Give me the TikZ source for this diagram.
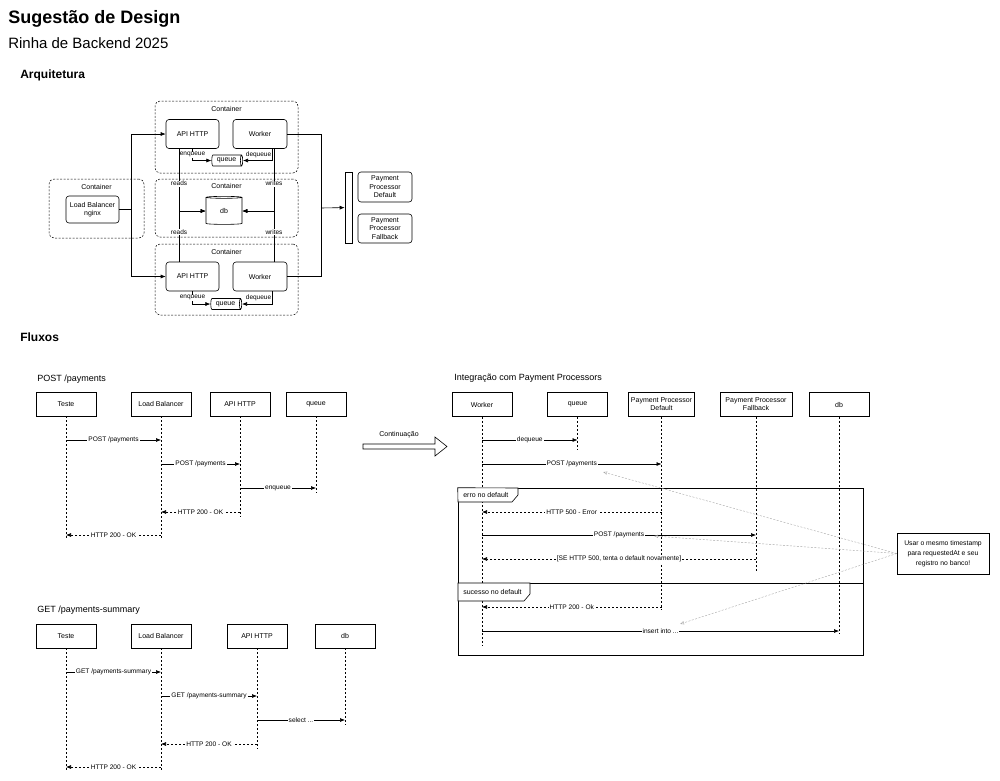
\documentclass[tikz,border=0pt]{standalone}
\usepackage{fontspec}
\setmainfont{Liberation Sans}
\usetikzlibrary{shapes.geometric,positioning,arrows.meta}

\begin{document}
\begin{tikzpicture}[x=1pt, y=-1pt, line width=0.6pt, >={Latex[length=5pt,width=4pt]},
  every node/.style={font=\fontsize{7}{8.4}\selectfont},
  caixa/.style={draw, rounded corners=3pt, align=center, minimum width=53pt, minimum height=29pt, inner sep=1pt},
  conteiner/.style={draw, dash pattern=on 2pt off 1.5pt, rounded corners=5pt, line width=0.5pt},
  fila/.style={draw, cylinder, aspect=0.45, minimum width=11pt, minimum height=31pt, inner sep=0pt},
  rotulo/.style={fill=white, inner sep=0.5pt, font=\fontsize{6.5}{7.5}\selectfont},
  participante/.style={draw, align=center, minimum width=60pt, minimum height=24pt, inner sep=1pt, font=\fontsize{7}{8}\selectfont},
  vida/.style={dash pattern=on 2pt off 2pt, line width=0.5pt},
  resposta/.style={->, dash pattern=on 2pt off 2pt},
  msglbl/.style={fill=white, inner sep=1pt, font=\fontsize{6.6}{7.5}\selectfont},
  ligacao/.style={-{Latex[open, length=4pt, width=3.5pt]}, draw=black!35, line width=0.4pt, dash pattern=on 2pt off 1.5pt},
  aba/.style={draw, fill=white},
  titulo/.style={anchor=west, inner sep=0pt}]
  \useasboundingbox (0,0) rectangle (1000,780);

  % titulos
  \node[titulo, font=\bfseries\fontsize{18}{22}\selectfont] (tit) at (8,19) {Sugestão de Design};
  \node[titulo, font=\fontsize{15}{18}\selectfont] (subtit) at (8,43) {Rinha de Backend 2025};
  \node[titulo, font=\bfseries\fontsize{12}{14}\selectfont] (arq) at (20,75) {Arquitetura};
  \node[titulo, font=\bfseries\fontsize{12}{14}\selectfont] (fluxos) at (20,337) {Fluxos};

  % arquitetura
  \node[conteiner, minimum width=143pt, minimum height=72pt] (c1) at (226.5,137) {};
  \node[conteiner, minimum width=143pt, minimum height=58pt] (c2) at (226.5,208) {};
  \node[conteiner, minimum width=143pt, minimum height=71pt] (c3) at (226.5,279.5) {};
  \node[conteiner, minimum width=95pt, minimum height=59pt] (c0) at (96.5,208.5) {};
  \node (c1l) at ([yshift=-8pt]c1.north) {Container};
  \node (c2l) at ([yshift=-7pt]c2.north) {Container};
  \node (c3l) at ([yshift=-8pt]c3.north) {Container};
  \node (c0l) at ([yshift=-8pt]c0.north) {Container};

  \node[caixa] (api1) at (192.5,134) {API HTTP};
  \node[caixa, minimum width=54pt] (wk1) at (260,134) {Worker};
  \node[fila] (fila1) at (226.5,160.5) {queue};
  \node[draw, cylinder, shape border rotate=90, aspect=0.25, minimum width=36pt, minimum height=28pt, inner sep=0pt] (db) at (224,211) {db};
  \node[caixa] (api2) at (192.5,276.5) {API HTTP};
  \node[caixa, minimum width=54pt] (wk2) at (260,276.5) {Worker};
  \node[fila] (fila2) at (225.5,304) {queue};
  \node[caixa, minimum height=27pt] (lb) at (92.5,209.5) {Load Balancer\\nginx};
  \node[draw, minimum width=7pt, minimum height=71pt, inner sep=0pt] (barra) at (348.5,207.5) {};
  \node[caixa, minimum width=54pt, minimum height=30pt] (ppd) at (385,187) {Payment\\Processor\\Default};
  \node[caixa, minimum width=54pt, minimum height=29pt] (ppf) at (385,228.5) {Payment\\Processor\\Fallback};

  \coordinate (j0) at (131,209.5);
  \coordinate (j1) at (321,208);
  \draw (lb) -- (j0);
  \draw[->] (j0) |- (api1);
  \draw[->] (j0) |- (api2);
  \draw (wk1) -| (j1);
  \draw (wk2) -| (j1);
  \draw[->] (j1) -- (barra);

  \draw[->] (api1.south) |- node[pos=0.25, rotulo] {enqueue} (fila1);
  \draw[->] ([xshift=12pt]wk1.south) |- node[pos=0.25, rotulo, left, inner sep=0.5pt] {dequeue} (fila1);
  \draw[->] (api2.south) |- node[pos=0.25, rotulo] {enqueue} (fila2);
  \draw[->] ([xshift=12pt]wk2.south) |- node[pos=0.25, rotulo, left, inner sep=0.5pt] {dequeue} (fila2);
  \draw[->] ([xshift=-13.5pt]api1.south) |- node[pos=0.28, rotulo] {reads} (db);
  \draw[->] ([xshift=-13.5pt]api2.north) |- node[pos=0.29, rotulo] {reads} (db);
  \draw[->] ([xshift=14pt]wk1.south) |- node[pos=0.28, rotulo] {writes} (db);
  \draw[->] ([xshift=14pt]wk2.north) |- node[pos=0.29, rotulo] {writes} (db);

  % fluxo POST /payments
  \node[titulo, font=\fontsize{9}{11}\selectfont] (post) at (37,379) {POST /payments};
  \node[participante] (t1) at (66,404) {Teste};
  \node[participante] (lb1) at (161,404) {Load Balancer};
  \node[participante] (api1s) at (240,404) {API HTTP};
  \node[participante] (q1) at (316,404) {queue};
  \coordinate (t1e) at (66,540);
  \coordinate (lb1e) at (161,540);
  \coordinate (api1e) at (240,517);
  \coordinate (q1e) at (316,493);
  \draw[vida] (t1) -- (t1e);
  \draw[vida] (lb1) -- (lb1e);
  \draw[vida] (api1s) -- (api1e);
  \draw[vida] (q1) -- (q1e);
  \draw[->] (t1 |- 0,440) -- node[msglbl] {POST /payments} (lb1 |- 0,440);
  \draw[->] (lb1 |- 0,464) -- node[msglbl] {POST /payments} (api1s |- 0,464);
  \draw[->] (api1s |- 0,488) -- node[msglbl] {enqueue} (q1 |- 0,488);
  \draw[resposta] (api1s |- 0,512) -- node[msglbl] {HTTP 200 - OK} (lb1 |- 0,512);
  \draw[resposta] (lb1 |- 0,535) -- node[msglbl] {HTTP 200 - OK} (t1 |- 0,535);

  % fluxo GET /payments-summary
  \node[titulo, font=\fontsize{9}{11}\selectfont] (get) at (37,610) {GET /payments-summary};
  \node[participante] (t2) at (66,636) {Teste};
  \node[participante] (lb2) at (161,636) {Load Balancer};
  \node[participante] (api2s) at (257,636) {API HTTP};
  \node[participante] (db2) at (345,636) {db};
  \coordinate (t2e) at (66,770);
  \coordinate (lb2e) at (161,770);
  \coordinate (api2e) at (257,749);
  \coordinate (db2e) at (345,725);
  \draw[vida] (t2) -- (t2e);
  \draw[vida] (lb2) -- (lb2e);
  \draw[vida] (api2s) -- (api2e);
  \draw[vida] (db2) -- (db2e);
  \draw[->] (t2 |- 0,672) -- node[msglbl] {GET /payments-summary} (lb2 |- 0,672);
  \draw[->] (lb2 |- 0,696) -- node[msglbl] {GET /payments-summary} (api2s |- 0,696);
  \draw[->] (api2s |- 0,720) -- node[msglbl] {select ...} (db2 |- 0,720);
  \draw[resposta] (api2s |- 0,744) -- node[msglbl] {HTTP 200 - OK} (lb2 |- 0,744);
  \draw[resposta] (lb2 |- 0,767) -- node[msglbl] {HTTP 200 - OK} (t2 |- 0,767);

  % continuacao
  \draw (363,444) -- (435,444) -- (435,437) -- (447,446.5) -- (435,456) -- (435,449) -- (363,449) -- cycle;
  \node (cont) at (399,435) {Continuação};

  % integracao com payment processors
  \node[titulo, font=\fontsize{9}{11}\selectfont] (integ) at (454,378) {Integração com Payment Processors};
  \node[participante] (w3) at (482,404.5) {Worker};
  \node[participante] (q3) at (577.5,404.5) {queue};
  \node[participante, minimum width=66pt] (ppd3) at (661.5,404.5) {Payment Processor\\Default};
  \node[participante, minimum width=72pt] (ppf3) at (756,404.5) {Payment Processor\\Fallback};
  \node[participante] (db3) at (839,404.5) {db};
  \coordinate (w3e) at (482,646);
  \coordinate (q3e) at (577.5,450);
  \coordinate (ppd3e) at (661.5,609);
  \coordinate (ppf3e) at (756,571);
  \coordinate (db3e) at (839,634);
  \draw[vida] (w3) -- (w3e);
  \draw[vida] (q3) -- (q3e);
  \draw[vida] (ppd3) -- (ppd3e);
  \draw[vida] (ppf3) -- (ppf3e);
  \draw[vida] (db3) -- (db3e);

  % frame alt
  \node[draw, minimum width=405pt, minimum height=167pt, inner sep=0pt] (alt) at (660.5,571.5) {};
  \draw (alt.west |- 0,583) -- (alt.east |- 0,583);
  \draw[aba] (alt.north west) -- (518,488) -- (518,495) -- (512,502) -- (458,502) -- cycle;
  \node[anchor=west, inner sep=0pt] (erro) at (463,495) {erro no default};
  \draw[aba] (458,583) -- (530,583) -- (530,594) -- (524,601) -- (458,601) -- cycle;
  \node[anchor=west, inner sep=0pt] (sucesso) at (463,592) {sucesso no default};

  \draw[->] (w3 |- 0,440) -- node[msglbl] {dequeue} (q3 |- 0,440);
  \draw[->] (w3 |- 0,464) -- node[msglbl] {POST /payments} (ppd3 |- 0,464);
  \draw[resposta] (ppd3 |- 0,512) -- node[msglbl] {HTTP 500 - Error} (w3 |- 0,512);
  \draw[->] (w3 |- 0,535) -- node[msglbl] {POST /payments} (ppf3 |- 0,535);
  \draw[resposta] (ppf3 |- 0,559) -- node[msglbl] {[SE HTTP 500, tenta o default novamente]} (w3 |- 0,559);
  \draw[resposta] (ppd3 |- 0,607) -- node[msglbl] {HTTP 200 - Ok} (w3 |- 0,607);
  \draw[->] (w3 |- 0,631) -- node[msglbl] {insert into ...} (db3 |- 0,631);

  % nota
  \node[draw, align=center, minimum width=92pt, minimum height=41pt, inner sep=1pt, font=\fontsize{6.8}{10}\selectfont] (nota) at (943,553.5) {Usar o mesmo timestamp\\para requestedAt e seu\\registro no banco!};
  \coordinate (alvo1) at (603,472);
  \coordinate (alvo2) at (654,536);
  \coordinate (alvo3) at (680,624);
  \draw[ligacao] (nota.west) -- (alvo1);
  \draw[ligacao] (nota.west) -- (alvo2);
  \draw[ligacao] (nota.west) -- (alvo3);
\end{tikzpicture}
\end{document}
